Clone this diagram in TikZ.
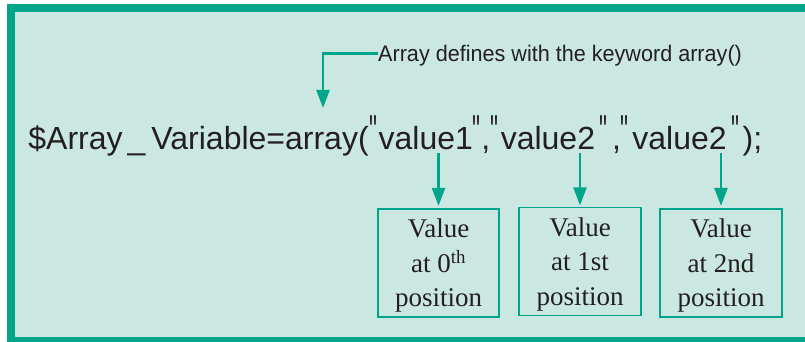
\documentclass[tikz,border=0pt]{standalone}
\usepackage{fontspec}
\usepackage{graphicx}
\usetikzlibrary{arrows.meta}
\newfontfamily\codefont{Liberation Sans}
\newfontfamily\boxfont{Liberation Serif}
\definecolor{frameteal}{HTML}{00A68C}
\definecolor{lightfill}{HTML}{CBE7E1}
\definecolor{inkdark}{HTML}{231F20}
\newcommand{\qmark}{\raisebox{3pt}{\scalebox{0.7}[1.35]{"}}}
\tikzset{
  arr/.style={draw=frameteal, line width=2.4pt, -{Triangle[length=18pt,width=13pt]}},
  valbox/.style={draw=frameteal, line width=1.2pt, minimum width=121pt, minimum height=108pt,
    align=center, inner sep=0pt, text depth=0pt, text=inkdark,
    font=\boxfont\fontsize{27pt}{34.5pt}\selectfont},
}
\begin{document}
\begin{tikzpicture}[x=1pt,y=-1pt]
\useasboundingbox (0,0) rectangle (805,342);
\fill[white] (0,0) rectangle (805,342);
\fill[frameteal] (7,4.3) rectangle (805,342);
\fill[lightfill] (15,12.3) rectangle (805,337);

% code line
\node[anchor=base west, inner sep=0pt, text=inkdark, font=\codefont\fontsize{32pt}{36pt}\selectfont] (code) at (28.2,149)
 {\$Array\kern5pt\_\kern6pt Variable=array(\kern1pt\qmark\kern1pt value1\kern0pt\qmark\kern0.5pt,\kern0.5pt\qmark\kern2pt value2\kern4pt\qmark\kern5pt,\qmark\kern3.5pt value2\kern4.5pt\qmark\kern3.5pt);};

% label and its arrow
\node[anchor=base west, inner sep=0pt, text=inkdark, font=\codefont\fontsize{22.5pt}{26pt}\selectfont] (lbl) at (378,61.7)
 {\scalebox{0.96}[1]{Array defines with the keyword array()}};
\coordinate (tip) at (323,108);
\draw[arr] ([yshift=2.5pt]lbl.west) -| (tip);

% value boxes
\node[valbox] (b1) at (438.5,263) {Value\\at 0\textsuperscript{th}\\position};
\node[valbox, minimum width=122pt] (b2) at (580,261.5) {Value\\at 1st\\position};
\node[valbox, minimum width=122pt] (b3) at (721,263) {Value\\at 2nd\\position};

\coordinate (a1) at (438.5,153);
\coordinate (a2) at (580,153);
\coordinate (a3) at (721,153);
\draw[arr, shorten >=2.5pt] (a1) -- (b1.north);
\draw[arr, shorten >=1.5pt] (a2) -- (b2.north);
\draw[arr, shorten >=2.5pt] (a3) -- (b3.north);
\end{tikzpicture}
\end{document}
